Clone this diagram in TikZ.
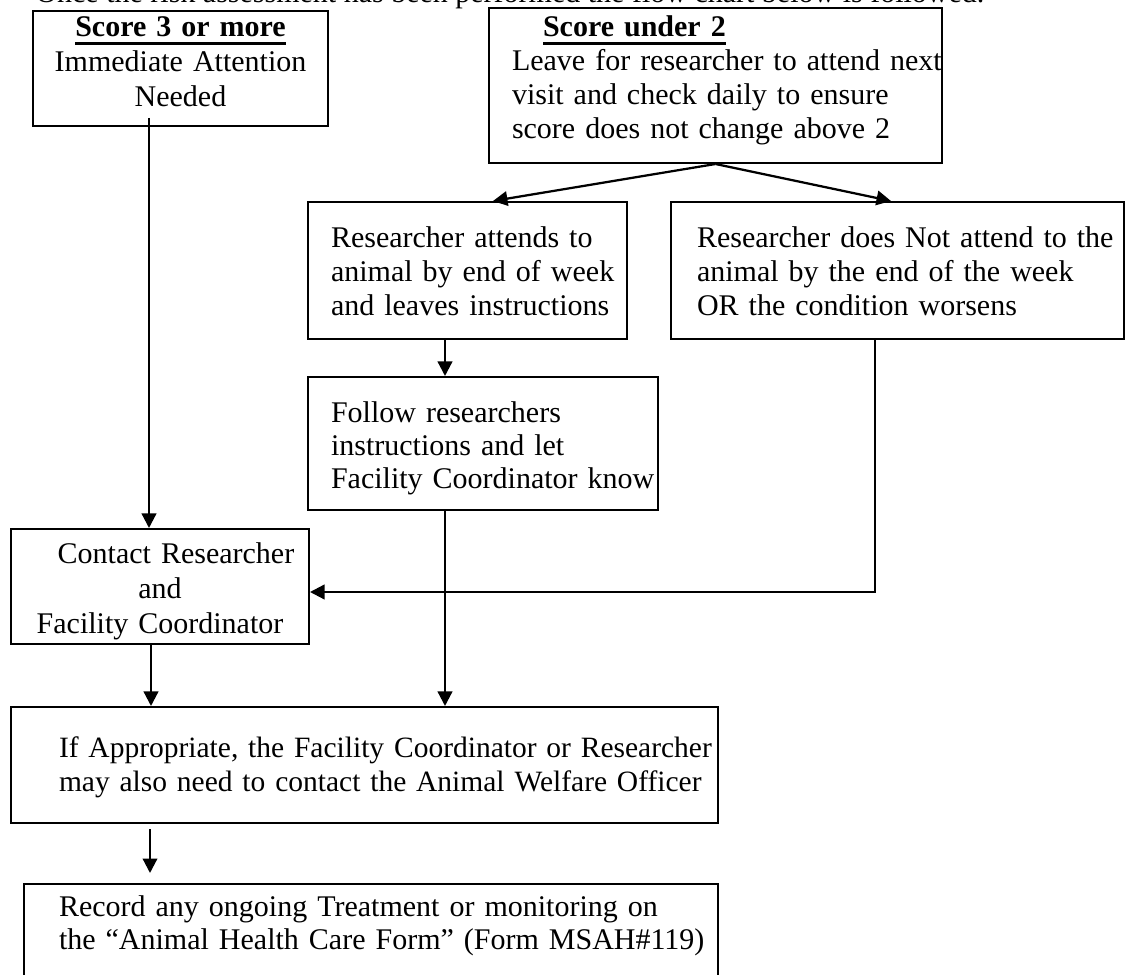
\documentclass[tikz,border=0pt]{standalone}
\usepackage{fontspec}
\setmainfont{Liberation Serif}
\usetikzlibrary{arrows.meta,positioning}

\newsavebox\headbox
\newcommand{\ulhead}[1]{\sbox\headbox{\bfseries #1}\rlap{\rule[-3.1pt]{\wd\headbox}{0.9pt}}\usebox\headbox}

\tikzset{
  box/.style={draw, line width=0.8pt, anchor=north west, inner sep=0pt, align=left},
  lead/.style={font=\fontsize{12}{#1}\selectfont},
  pad/.style={execute at begin node={\leftskip=#1\relax\rightskip=0pt plus 1fil minus 30pt\relax}},
  arr/.style={line width=0.9pt, -{Triangle[length=5.8pt,width=5.8pt]}},
}

\begin{document}
\begin{tikzpicture}[x=1pt, y=-1pt]
  \clip (0,0) rectangle (450,390);
  \fill[white] (0,0) rectangle (450,390);

  % heading line, cut off by the page top
  \node[anchor=base west, inner sep=0pt, lead=14] (intro) at (14,1.2)
        {Once the risk assessment has been performed the flow chart below is followed.};

  % the two scores
  \node[box, align=center, lead=14, text width=118pt, text height=10.4pt, text depth=35.6pt]
        (high) at (12.8,4) {\ulhead{Score 3 or more}\\ Immediate Attention\\ Needed};
  \node[box, lead=13.6, pad=9.2pt, text width=181.2pt, text height=11.6pt, text depth=50.4pt]
        (low) at (195.2,2.8) {\hspace*{12.4pt}\ulhead{Score under 2}\\ Leave for researcher to attend next\\
        visit and check daily to ensure\\ score does not change above 2};

  % researcher does / does not attend
  \node[box, lead=13.6, pad=9.2pt, text width=127.6pt, text height=18.4pt, text depth=36.4pt]
        (attend) at (122.8,80.4) {Researcher attends to\\ animal by end of week\\ and leaves instructions};
  \node[box, lead=13.6, pad=10.4pt, text width=181.2pt, text height=18.4pt, text depth=36.4pt]
        (noattend) at (268,80.4) {Researcher does Not attend to the\\ animal by the end of the week\\ OR the condition worsens};
  \node[box, lead=13.2, pad=9.2pt, text width=140pt, text height=18.4pt, text depth=34.8pt]
        (follow) at (122.8,150.4) {Follow researchers\\ instructions and let\\ Facility Coordinator know};

  % contacting and recording
  \node[box, align=center, lead=14, text width=119.2pt, text height=14pt, text depth=32pt]
        (contact) at (4,211.2) {\hspace*{12.8pt}Contact Researcher\\ and\\ Facility Coordinator};
  \node[box, font=\fontsize{11.8}{13.2}\selectfont, pad=19.2pt, text width=282.8pt, text height=20.4pt, text depth=26pt]
        (welfare) at (4,282.4) {If Appropriate, the Facility Coordinator or Researcher\\
        may also need to contact the Animal Welfare Officer};
  \node[box, lead=13.2, pad=14pt, text width=277.6pt, text height=12.8pt, text depth=34pt]
        (record) at (9.2,353.2) {Record any ongoing Treatment or monitoring on\\
        the “Animal Health Care Form” (Form MSAH\#119)};

  % arrows
  \draw[arr] ([xshift=-12.6pt,yshift=3.6pt]high.south) -- ([xshift=-12.6pt]high.south |- contact.north);
  \draw[arr] (low.south) -- ([xshift=10.2pt]attend.north);
  \draw[arr] (low.south) -- ([xshift=-2.6pt]noattend.north);
  \draw[arr] ([xshift=-9pt]attend.south) -- ([xshift=-9pt]attend.south |- follow.north);
  \draw[arr] ([xshift=-9pt]noattend.south) |- ([yshift=-2.2pt]contact.east);
  \draw[arr] ([xshift=-3.6pt]contact.south) -- ([xshift=-3.6pt]contact.south |- welfare.north);
  \draw[arr] ([xshift=-15.2pt]follow.south) -- ([xshift=-15.2pt]follow.south |- welfare.north);
  \draw[arr, shorten <=2pt, shorten >=4pt] ([xshift=56pt]welfare.south west)
        -- ([xshift=56pt]welfare.south west |- record.north);
\end{tikzpicture}
\end{document}
